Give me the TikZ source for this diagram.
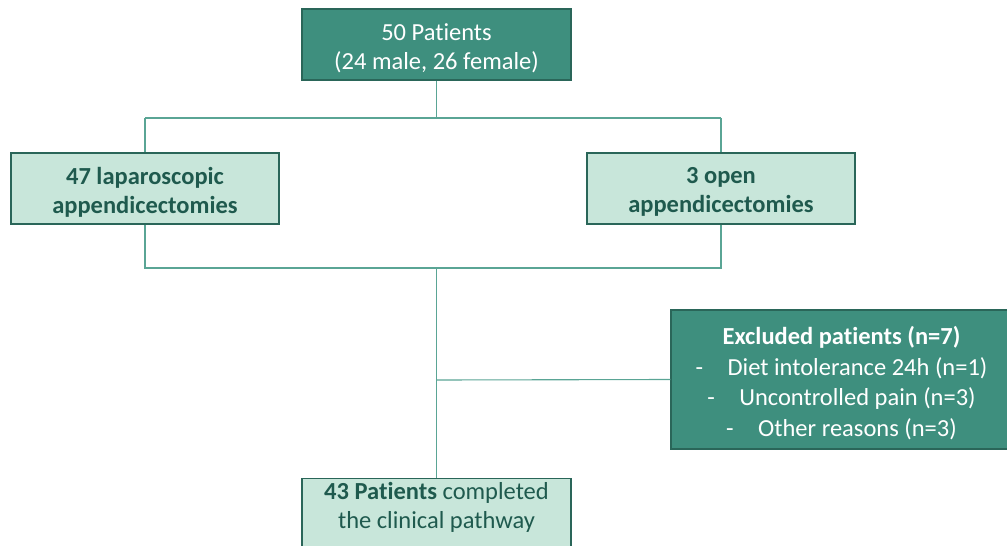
\documentclass[tikz,border=0pt]{standalone}
\usepackage{fontspec}
\setmainfont{Carlito}[Ligatures=NoCommon]
\definecolor{darkfill}{HTML}{3E8F7E}
\definecolor{darkedge}{HTML}{2A6659}
\definecolor{lightfill}{HTML}{C8E6DA}
\definecolor{textdark}{HTML}{1F5A4E}
\definecolor{linecol}{HTML}{5AA595}
\begin{document}
\begin{tikzpicture}[x=1pt,y=-1pt,
  darkbox/.style={draw=darkedge,line width=1.2pt,fill=darkfill,inner sep=0pt},
  lightbox/.style={draw=darkedge,line width=1.2pt,fill=lightfill,inner sep=0pt},
  lighttext/.style={text=textdark,align=center,inner sep=0pt,font=\fontsize{24.5}{29}\selectfont},
  darktext/.style={text=white,align=center,inner sep=0pt,font=\fontsize{24.5}{29}\selectfont},
  conn/.style={draw=linecol,line width=1.1pt}]
\useasboundingbox (0,0) rectangle (1007,546);
\clip (0,0) rectangle (1007,546);
\node[darkbox,minimum width=269pt,minimum height=71pt] (top) at (436.5,44.5) {};
\node[darktext] (toptext) at ([yshift=-3.5pt]top.center) {50 Patients\\(24 male, 26 female)};
\node[lightbox,minimum width=268pt,minimum height=71pt] (lap) at (145,188.5) {};
\node[lighttext] (laptext) at ([yshift=-3.5pt]lap.center) {\bfseries 47 laparoscopic\\\bfseries appendicectomies};
\node[lightbox,minimum width=268pt,minimum height=71pt] (open) at (721,188.5) {};
\node[lighttext] (opentext) at ([yshift=-3.5pt]open.center) {\bfseries 3 open\\\bfseries appendicectomies};
\node[darkbox,minimum width=341pt,minimum height=139pt] (excl) at (841.5,379.5) {};
\node[darktext,font=\fontsize{24.5}{30.5}\selectfont] (excltext) at ([yshift=-3.5pt]excl.center)
  {\textbf{Excluded patients (n=7)}\\-\hspace{1em}Diet intolerance 24h (n=1)\\-\hspace{1em}Uncontrolled pain (n=3)\\-\hspace{1em}Other reasons (n=3)};
\node[lightbox,minimum width=269pt,minimum height=84pt,anchor=north] (done) at (436.5,478) {};
\node[lighttext] (donetext) at (436.5,507) {\textbf{43 Patients} completed\\the clinical pathway};
\coordinate (s1) at (436.5,118);
\coordinate (s1l) at (145,118);
\coordinate (s1r) at (721,118);
\coordinate (s2) at (436.5,268);
\coordinate (s2l) at (145,268);
\coordinate (s2r) at (721,268);
\coordinate (mid) at (436.5,380);
\draw[conn] (top.south) -- (s1);
\draw[conn] (s1l) -- (s1r);
\draw[conn] (s1l) -- (lap.north);
\draw[conn] (s1r) -- (open.north);
\draw[conn] (lap.south) -- (s2l) -- (s2r) -- (open.south);
\draw[conn] (s2) -- (done.north);
\draw[conn] (mid) -- (excl.west);
\end{tikzpicture}
\end{document}
